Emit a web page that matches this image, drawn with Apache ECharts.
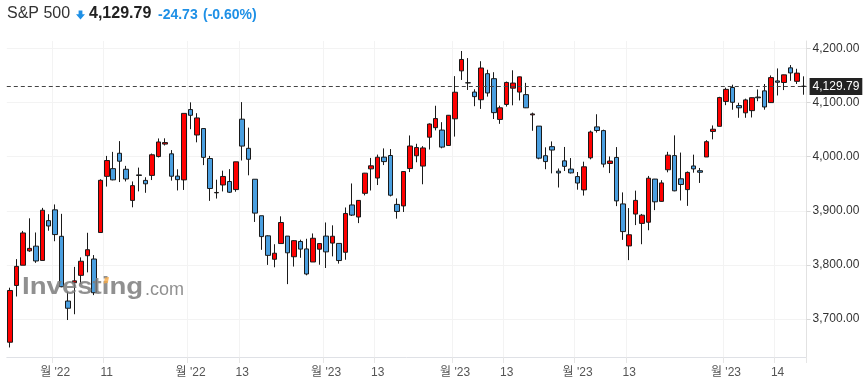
<!DOCTYPE html>
<html>
<head>
<meta charset="utf-8">
<script src="https://cdn.jsdelivr.net/npm/echarts@6/dist/echarts.min.js"></script>
<style>
  html, body { margin: 0; padding: 0; background: #fff; }
  #chart { width: 866px; height: 390px; }
</style>
</head>
<body>
<div id="chart"></div>
<script>
// S&P 500 daily, 2022-10-21 .. 2023-04-20
const dates = [
  '2022-10-21','2022-10-24','2022-10-25','2022-10-26','2022-10-27','2022-10-28','2022-10-31',
  '2022-11-01','2022-11-02','2022-11-03','2022-11-04','2022-11-07','2022-11-08','2022-11-09','2022-11-10','2022-11-11',
  '2022-11-14','2022-11-15','2022-11-16','2022-11-17','2022-11-18','2022-11-21','2022-11-22','2022-11-23','2022-11-25',
  '2022-11-28','2022-11-29','2022-11-30',
  '2022-12-01','2022-12-02','2022-12-05','2022-12-06','2022-12-07','2022-12-08','2022-12-09','2022-12-12','2022-12-13',
  '2022-12-14','2022-12-15','2022-12-16','2022-12-19','2022-12-20','2022-12-21','2022-12-22','2022-12-23','2022-12-27',
  '2022-12-28','2022-12-29','2022-12-30',
  '2023-01-03','2023-01-04','2023-01-05','2023-01-06','2023-01-09','2023-01-10','2023-01-11','2023-01-12','2023-01-13',
  '2023-01-17','2023-01-18','2023-01-19','2023-01-20','2023-01-23','2023-01-24','2023-01-25','2023-01-26','2023-01-27',
  '2023-01-30','2023-01-31',
  '2023-02-01','2023-02-02','2023-02-03','2023-02-06','2023-02-07','2023-02-08','2023-02-09','2023-02-10','2023-02-13',
  '2023-02-14','2023-02-15','2023-02-16','2023-02-17','2023-02-21','2023-02-22','2023-02-23','2023-02-24','2023-02-27',
  '2023-02-28',
  '2023-03-01','2023-03-02','2023-03-03','2023-03-06','2023-03-07','2023-03-08','2023-03-09','2023-03-10','2023-03-13',
  '2023-03-14','2023-03-15','2023-03-16','2023-03-17','2023-03-20','2023-03-21','2023-03-22','2023-03-23','2023-03-24',
  '2023-03-27','2023-03-28','2023-03-29','2023-03-30','2023-03-31',
  '2023-04-03','2023-04-04','2023-04-05','2023-04-06','2023-04-10','2023-04-11','2023-04-12','2023-04-13','2023-04-14',
  '2023-04-17','2023-04-18','2023-04-19','2023-04-20'
];

const opens = [
  3657.10, 3762.01, 3799.44, 3825.97, 3834.69, 3808.26, 3881.85,
  3901.79, 3852.90, 3733.25, 3766.98, 3780.71, 3817.02, 3810.94, 3859.89, 3963.72,
  3977.97, 4006.41, 3976.82, 3919.26, 3966.39, 3956.23, 3965.51, 4000.30, 4023.34,
  4005.36, 3964.19, 3957.18,
  4087.14, 4040.17, 4052.02, 3996.63, 3933.28, 3947.79, 3954.17, 3939.29, 4069.38,
  4015.54, 3958.37, 3890.91, 3853.79, 3810.47, 3839.49, 3853.26, 3815.11, 3843.34,
  3829.56, 3805.45, 3829.06,
  3853.29, 3840.36, 3839.74, 3823.37, 3910.82, 3888.57, 3932.35, 3977.57, 3960.60,
  3999.28, 4002.25, 3911.84, 3909.04, 3978.14, 4001.74, 3982.71, 4036.08, 4053.72,
  4049.27, 4020.85,
  4070.07, 4158.68, 4136.69, 4119.57, 4105.35, 4153.47, 4144.25, 4068.92, 4096.62,
  4126.70, 4119.50, 4114.75, 4077.39, 4056.56, 4001.83, 4018.60, 3973.24, 3992.36,
  3977.19,
  3963.34, 3938.68, 3998.02, 4055.15, 4048.26, 3987.55, 3998.66, 3912.77, 3835.12,
  3894.01, 3876.74, 3878.93, 3958.69, 3917.47, 3975.89, 4002.04, 3959.21, 3939.21,
  3982.93, 3974.13, 3999.53, 4046.74, 4056.18,
  4102.20, 4128.03, 4094.50, 4081.15, 4085.20, 4110.29, 4121.72, 4100.04, 4140.11,
  4137.17, 4164.26, 4139.33, 4130.48
];

const highs = [
  3757.89, 3810.74, 3862.85, 3886.15, 3859.95, 3905.42, 3893.73,
  3911.79, 3894.44, 3750.59, 3796.34, 3813.95, 3859.40, 3818.20, 3958.33, 4001.48,
  4008.97, 4028.84, 3983.09, 3954.33, 3979.89, 3962.00, 4005.88, 4033.78, 4034.02,
  4012.27, 3976.77, 4080.11,
  4100.51, 4080.48, 4052.45, 4001.51, 3957.57, 3974.19, 3977.02, 3990.71, 4100.96,
  4053.76, 3958.37, 3890.91, 3854.86, 3838.24, 3889.82, 3853.26, 3845.80, 3846.65,
  3848.32, 3858.19, 3839.85,
  3878.46, 3873.16, 3839.74, 3906.19, 3950.57, 3919.83, 3970.07, 3997.76, 4003.95,
  4015.39, 4014.16, 3922.94, 3972.96, 4039.31, 4023.92, 4019.55, 4061.57, 4094.21,
  4063.85, 4077.16,
  4148.95, 4195.44, 4182.36, 4124.63, 4176.54, 4160.77, 4156.23, 4094.36, 4138.90,
  4159.77, 4148.11, 4136.54, 4081.51, 4056.56, 4017.37, 4028.30, 3978.25, 4018.05,
  3997.50,
  3971.73, 3990.84, 4048.29, 4078.49, 4050.00, 4000.41, 4017.81, 3934.05, 3905.05,
  3937.29, 3894.26, 3964.46, 3958.91, 3956.62, 4009.08, 4039.49, 4007.66, 3972.74,
  4003.83, 3979.20, 4030.59, 4057.85, 4110.75,
  4127.66, 4133.13, 4099.69, 4107.32, 4109.50, 4124.26, 4134.37, 4150.26, 4163.19,
  4151.72, 4169.48, 4162.57, 4148.57
];

const lows = [
  3647.42, 3741.65, 3799.44, 3824.07, 3803.79, 3808.26, 3863.18,
  3843.80, 3758.68, 3698.15, 3708.84, 3764.70, 3786.28, 3744.22, 3859.89, 3944.82,
  3956.40, 3953.17, 3954.34, 3906.54, 3935.98, 3933.34, 3956.88, 3998.66, 4020.76,
  3955.77, 3937.65, 3938.58,
  4050.87, 4026.63, 3984.49, 3918.39, 3922.68, 3935.83, 3933.04, 3935.30, 3993.03,
  3965.65, 3879.45, 3827.91, 3800.04, 3795.62, 3839.49, 3764.49, 3797.01, 3813.22,
  3780.78, 3805.45, 3800.34,
  3794.33, 3815.77, 3802.42, 3809.56, 3890.42, 3877.29, 3928.54, 3937.56, 3947.67,
  3984.57, 3926.59, 3885.54, 3897.86, 3971.64, 3989.79, 3949.06, 4013.29, 4048.70,
  4015.55, 4020.44,
  4037.20, 4141.88, 4123.36, 4093.38, 4088.39, 4111.13, 4069.67, 4060.79, 4092.67,
  4095.01, 4103.98, 4089.89, 4047.95, 3995.19, 3976.90, 3969.19, 3943.08, 3973.55,
  3968.98,
  3939.05, 3928.16, 3995.17, 4044.61, 3980.31, 3969.76, 3908.70, 3846.32, 3808.86,
  3873.63, 3838.24, 3864.11, 3901.27, 3916.89, 3971.19, 3936.17, 3919.05, 3909.16,
  3970.49, 3951.53, 3999.53, 4032.10, 4056.18,
  4095.31, 4086.87, 4072.00, 4072.00, 4072.55, 4102.61, 4086.94, 4099.40, 4113.20,
  4123.18, 4140.36, 4134.49, 4114.57
];

const closes = [
  3752.75, 3797.34, 3859.11, 3830.60, 3807.30, 3901.06, 3871.98,
  3856.10, 3759.69, 3719.89, 3770.55, 3806.80, 3828.11, 3748.57, 3956.37, 3992.93,
  3957.25, 3991.73, 3958.79, 3946.56, 3965.34, 3949.94, 4003.58, 4027.26, 4026.12,
  3963.94, 3957.63, 4080.11,
  4076.57, 4071.70, 3998.84, 3941.26, 3933.92, 3963.51, 3934.38, 3990.56, 4019.65,
  3995.32, 3895.75, 3852.36, 3817.66, 3821.62, 3878.44, 3822.39, 3844.82, 3829.25,
  3783.22, 3849.28, 3839.50,
  3824.14, 3852.97, 3808.10, 3895.08, 3892.09, 3919.25, 3969.61, 3983.17, 3999.09,
  3990.97, 3928.86, 3898.85, 3972.61, 4019.81, 4016.95, 4016.22, 4060.43, 4070.56,
  4017.77, 4076.60,
  4119.21, 4179.76, 4136.48, 4111.08, 4164.00, 4117.86, 4081.50, 4090.46, 4137.29,
  4136.13, 4147.60, 4090.41, 4079.09, 3997.34, 3991.05, 4012.32, 3970.04, 3982.24,
  3970.15,
  3951.39, 3981.35, 4045.64, 4048.42, 3986.37, 3992.01, 3918.32, 3861.59, 3855.76,
  3919.29, 3891.93, 3960.28, 3916.64, 3951.57, 4002.87, 3936.97, 3948.72, 3970.99,
  3977.53, 3971.27, 4027.81, 4050.83, 4109.31,
  4124.51, 4100.60, 4090.38, 4105.02, 4109.11, 4108.94, 4091.95, 4146.22, 4137.64,
  4151.32, 4154.87, 4154.52, 4129.79
];

// x axis labels (as shown on the reference)
const tickDates = ['2022-11-01','2022-11-11','2022-12-01','2022-12-13','2023-01-03','2023-01-13',
                   '2023-02-01','2023-02-13','2023-03-01','2023-03-13','2023-04-03','2023-04-14'];
const tickLabels = ["월 '22", '11', "월 '22", '13', "월 '23", '13',
                    "월 '23", '13', "월 '23", '13', "월 '23", '14'];

const priceTicks = [3700, 3800, 3900, 4000, 4100, 4200];

const UP = '#ff0000';
const DOWN = '#4a9fe0';
const BLUE_TXT = '#1e90e6';
const FONT = '"Liberation Sans", Arial, "Noto Sans CJK KR", sans-serif';

const candles = dates.map((d, i) => [opens[i], closes[i], lows[i], highs[i]]);
const last = closes[closes.length - 1];
const prev = closes[closes.length - 2];
const chg = last - prev;
const pct = chg / prev * 100;

const fmt = v => v.toLocaleString('en-US', { minimumFractionDigits: 2, maximumFractionDigits: 2 });
const isTick = (idx) => tickDates.indexOf(dates[idx]) >= 0;

const chart = echarts.init(document.getElementById('chart'));
chart.setOption({
  animation: false,
  backgroundColor: '#fff',
  grid: { left: 6.8, right: 59.4, top: 41, bottom: 33 },
  xAxis: {
    type: 'category',
    data: dates,
    boundaryGap: true,
    axisLine: { lineStyle: { color: '#dfe1e6', width: 1 } },
    axisTick: {
      show: true,
      interval: (i) => isTick(i),
      length: 6,
      lineStyle: { color: '#e6e6e6' }
    },
    axisLabel: {
      interval: (i) => isTick(i),
      formatter: (v) => tickLabels[tickDates.indexOf(v)],
      color: '#555',
      fontSize: 12,
      fontFamily: FONT,
      margin: 10
    },
    splitLine: {
      show: true,
      interval: (i) => isTick(i),
      lineStyle: { color: '#f3f3f3' }
    }
  },
  yAxis: {
    type: 'value',
    position: 'right',
    min: 3629.8,
    max: 4213.9,
    scale: true,
    axisLine: { show: true, lineStyle: { color: '#e2e2e2' } },
    axisTick: { show: true, length: 4, customValues: priceTicks, lineStyle: { color: '#d8d8d8' } },
    axisLabel: {
      customValues: priceTicks,
      formatter: (v) => fmt(v),
      color: '#333',
      fontSize: 12,
      fontFamily: FONT,
      margin: 6
    },
    splitLine: { show: true, lineStyle: { color: '#f3f3f3' } }
  },
  series: [{
    type: 'candlestick',
    data: candles,
    barWidth: 5,
    itemStyle: {
      color: UP,
      color0: DOWN,
      borderColor: '#1a1a1a',
      borderColor0: '#1a1a1a',
      borderWidth: 1
    },
    markLine: {
      silent: true,
      symbol: 'none',
      animation: false,
      lineStyle: { color: '#444', type: [4, 3], width: 1 },
      label: {
        position: 'end',
        distance: 3,
        formatter: () => fmt(last),
        color: '#fff',
        backgroundColor: '#222',
        padding: [3, 3, 2, 3],
        fontSize: 12,
        fontFamily: FONT
      },
      data: [{ yAxis: last }]
    }
  }],
  graphic: [
    // header
    { type: 'text', left: 7, top: 6, style: { text: 'S&P 500', font: '16px ' + FONT, fill: '#333' } },
    { type: 'polygon', shape: { points: [[78.6, 10.5], [82.4, 10.5], [82.4, 14.2], [85, 14.2], [80.5, 19.5], [76, 14.2], [78.6, 14.2]] },
      style: { fill: BLUE_TXT } },
    { type: 'text', left: 89, top: 6, style: { text: fmt(last), font: 'bold 16px ' + FONT, fill: '#222' } },
    { type: 'text', left: 158, top: 8, style: { text: chg.toFixed(2), font: 'bold 14px ' + FONT, fill: BLUE_TXT } },
    { type: 'text', left: 203, top: 8, style: { text: '(' + pct.toFixed(2) + '%)', font: 'bold 14px ' + FONT, fill: BLUE_TXT } },
    // watermark
    { type: 'text', x: 22, y: 287.5, scaleX: 1.15, z: 100,
      style: { text: 'Investing', font: 'bold 24px ' + FONT, verticalAlign: 'middle', fill: 'rgba(125,125,125,0.85)' } },
    { type: 'text', x: 145, y: 289.8, z: 100,
      style: { text: '.com', font: '18px ' + FONT, verticalAlign: 'middle', fill: 'rgba(125,125,125,0.85)' } },
    { type: 'polygon', z: 100, shape: { points: [[103.5, 283.5], [105, 277.5], [109, 277], [107.8, 283]] },
      style: { fill: 'rgba(247,170,70,0.8)' } }
  ]
});
</script>
</body>
</html>
